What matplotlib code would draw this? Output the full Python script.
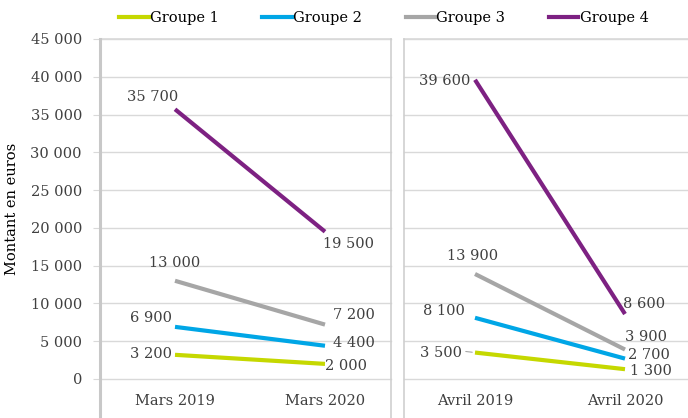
import matplotlib
matplotlib.use("Agg")
import matplotlib.pyplot as plt
from matplotlib.lines import Line2D

plt.rcParams['font.family'] = ['DejaVu Serif']

# ---- data ----
groups = ["Groupe 1", "Groupe 2", "Groupe 3", "Groupe 4"]
mars_labels = ["Mars 2019", "Mars 2020"]
avril_labels = ["Avril 2019", "Avril 2020"]
mars_values = [
    [3200, 2000],
    [6900, 4400],
    [13000, 7200],
    [35700, 19500],
]
avril_values = [
    [3500, 1300],
    [8100, 2700],
    [13900, 3900],
    [39600, 8600],
]
y_ticks = [0, 5000, 10000, 15000, 20000, 25000, 30000, 35000, 40000, 45000]
y_label = "Montant en euros"

# ---- styles ----
colors = ["#C5D800", "#00A6E6", "#A6A6A6", "#7D2182"]
txt = "#404040"
grid_c = "#D9D9D9"
fs = 10.5

# label placement (ha, dx px, dy px) per group per point
mars_pos = [
    [("right", -3, 1), ("left", 0, -2)],
    [("right", -3, 9), ("left", 8, 3)],
    [("center", 0, 18), ("left", 8, 10)],
    [("center", -22, 12), ("left", -2, -12)],
]
avril_pos = [
    [("right", -13, 0), ("left", 5, -2)],
    [("right", -10, 7), ("left", 3, 4)],
    [("center", -2, 18), ("left", 0, 13)],
    [("right", -5, -1), ("left", -2, 10)],
]

W, H = 688, 418
fig = plt.figure(figsize=(W / 100, H / 100), dpi=100)

def fmt(v):
    return f"{v:,}".replace(",", " ")

ax_bottom = 1 - 379 / H
ax_height = 340 / H
ax1 = fig.add_axes([100 / W, ax_bottom, 291 / W, ax_height])
ax2 = fig.add_axes([404 / W, ax_bottom, 284 / W, ax_height])

ext = -39 / 340
panels = [
    (ax1, mars_labels, mars_values, mars_pos, (-0.5, 291 / 150 - 0.5)),
    (ax2, avril_labels, avril_values, avril_pos, (-71 / 150, (688 - 475) / 150)),
]
for i, (ax, cats, vals, pos, xl) in enumerate(panels):
    ax.set_xlim(*xl)
    ax.set_ylim(0, 45000)
    ax.set_yticks(y_ticks)
    ax.grid(axis="y", color=grid_c, linewidth=1)
    for gl in ax.get_ygridlines():
        gl.set_clip_on(False)
    ax.set_axisbelow(True)
    for s in ax.spines.values():
        s.set_visible(False)
    ax.spines["top"].set_visible(True)
    ax.spines["top"].set_color(grid_c)
    ax.spines["top"].set_linewidth(1.2)
    ax.set_xticks(range(len(cats)))
    ax.set_xticklabels(cats, fontsize=fs, color=txt)
    ax.tick_params(axis="x", length=0, pad=11)
    if i == 0:
        ax.set_yticklabels([fmt(t) for t in y_ticks], fontsize=fs, color=txt)
        ax.tick_params(axis="y", length=5, color=grid_c, pad=8)
        ax.set_ylabel(y_label, fontsize=fs, color="black", labelpad=8)
        ax.plot([0, 0], [ext, 1], transform=ax.transAxes, clip_on=False,
                color="#C8C8C8", lw=2.2, zorder=3)
        ax.plot([1, 1], [ext, 1], transform=ax.transAxes, clip_on=False,
                color="#CFCFCF", lw=1.2, zorder=3)
    else:
        ax.tick_params(axis="y", length=0, labelleft=False)
        ax.plot([0, 0], [ext, 1], transform=ax.transAxes, clip_on=False,
                color="#CFCFCF", lw=1.2, zorder=3)
    for g, (series, c) in enumerate(zip(vals, colors)):
        ax.plot(range(len(series)), series, color=c, lw=3, solid_capstyle="butt", zorder=4)
        for j, v in enumerate(series):
            ha, dx, dy = pos[g][j]
            ax.annotate(fmt(v), (j, v), xytext=(dx * 0.72, dy * 0.72),
                        textcoords="offset points", ha=ha, va="center",
                        fontsize=fs, color=txt, zorder=5)

# leader line for 3 500
ax2.annotate("", xy=(0, avril_values[0][0]), xytext=(-12 * 0.72, 1),
             textcoords="offset points",
             arrowprops=dict(arrowstyle="-", color="#A6A6A6", lw=0.8))

handles = [Line2D([], [], color=c, lw=3) for c in colors]
fig.legend(handles, groups, loc="center", bbox_to_anchor=(384 / W, 1 - 18 / H),
           ncol=4, frameon=False, fontsize=fs, handlelength=2.0,
           handletextpad=0.1, columnspacing=3.0, labelcolor="black")

fig.savefig("out.png", dpi=100)
